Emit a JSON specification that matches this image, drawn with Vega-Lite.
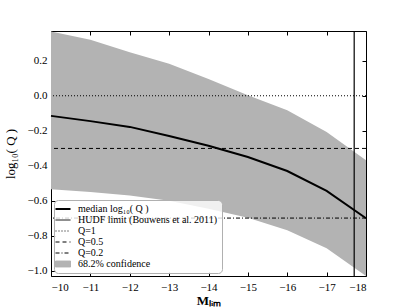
{
  "$schema": "https://vega.github.io/schema/vega-lite/v6.json",
  "width": 315,
  "height": 245,
  "autosize": "none",
  "padding": {"left": 51, "top": 31, "right": 41, "bottom": 31},
  "background": "white",
  "config": {
    "view": {"stroke": "black", "strokeWidth": 1},
    "font": "Liberation Serif",
    "axis": {"domain": false, "grid": false, "tickColor": "black", "tickSize": -4, "labelFont": "Liberation Serif", "labelFontSize": 11, "labelColor": "black", "titleFont": "Liberation Serif", "titleColor": "black"}
  },
  "datasets": {
    "band": [
      {"M": -10, "lo": -0.534, "hi": 0.367},
      {"M": -11, "lo": -0.55, "hi": 0.32},
      {"M": -12, "lo": -0.57, "hi": 0.249},
      {"M": -13, "lo": -0.6, "hi": 0.183},
      {"M": -14, "lo": -0.645, "hi": 0.096},
      {"M": -15, "lo": -0.697, "hi": 0.003},
      {"M": -16, "lo": -0.768, "hi": -0.083},
      {"M": -17, "lo": -0.872, "hi": -0.207},
      {"M": -18, "lo": -1.03, "hi": -0.368}
    ],
    "median": [
      {"M": -10, "q": -0.115},
      {"M": -11, "q": -0.145},
      {"M": -12, "q": -0.178},
      {"M": -13, "q": -0.23},
      {"M": -14, "q": -0.286},
      {"M": -15, "q": -0.35},
      {"M": -16, "q": -0.43},
      {"M": -17, "q": -0.544},
      {"M": -18, "q": -0.7}
    ],
    "hlines": [
      {"q": 0, "series": "Q=1"},
      {"q": -0.30103, "series": "Q=0.5"},
      {"q": -0.69897, "series": "Q=0.2"}
    ],
    "vlines": [
      {"M": -17.7}
    ]
  },
  "layer": [
    {
      "data": {"name": "band"},
      "mark": {"type": "area", "color": "#b3b3b3", "opacity": 1},
      "encoding": {
        "x": {"field": "M", "type": "quantitative", "scale": {"domain": [-10, -18], "nice": false, "zero": false},
              "axis": {"orient": "bottom", "title": "Mₗᵢₘ", "titleFontWeight": "bold", "titleFontSize": 13, "titlePadding": 2, "values": [-10,-11,-12,-13,-14,-15,-16,-17,-18], "format": "d", "labelPadding": 9}},
        "y": {"field": "lo", "type": "quantitative", "scale": {"domain": [-1.03, 0.37], "nice": false, "zero": false},
              "axis": {"orient": "left", "title": "log₁₀( Q )", "titleFontSize": 13, "titleFontWeight": "normal", "titlePadding": 10, "values": [0.2, 0, -0.2, -0.4, -0.6, -0.8, -1.0], "format": ".1f", "labelPadding": 8}},
        "y2": {"field": "hi"}
      }
    },
    {
      "data": {"name": "hlines"},
      "mark": {"type": "rule", "strokeWidth": 1},
      "encoding": {
        "y": {"field": "q", "type": "quantitative", "axis": {"orient": "right", "title": null, "labels": false, "values": [0.2, 0, -0.2, -0.4, -0.6, -0.8, -1.0]}},
        "color": {"field": "series", "type": "nominal",
          "scale": {"domain": ["median log₁₀( Q )", "HUDF limit (Bouwens et al. 2011)", "Q=1", "Q=0.5", "Q=0.2", "68.2% confidence"], "range": ["black", "black", "black", "black", "black", "#b3b3b3"]},
          "legend": {
            "title": null, "orient": "bottom-left", "offset": 3,
            "symbolType": "stroke", "symbolSize": 225, "rowPadding": 1, "labelOffset": 10,
            "labelFont": "Liberation Serif", "labelFontSize": 10, "labelColor": "black", "labelLimit": 300,
            "fillColor": "rgba(255,255,255,0.8)", "strokeColor": "#b0b0b0", "cornerRadius": 4, "padding": 4,
            "encode": {"symbols": {"update": {
              "shape": {"signal": "datum.value === '68.2% confidence' ? 'M-1,-0.4H1V0.4H-1Z' : 'stroke'"},
              "stroke": {"signal": "datum.value === '68.2% confidence' ? 'transparent' : 'black'"},
              "strokeDash": {"signal": "datum.value === 'Q=1' ? [1,2] : datum.value === 'Q=0.5' ? [4,3] : datum.value === 'Q=0.2' ? [4,2,1,2] : [1,0]"},
              "strokeWidth": {"signal": "datum.value === 'median log₁₀( Q )' ? 2 : 1"},
              "fill": {"signal": "datum.value === '68.2% confidence' ? '#b3b3b3' : 'transparent'"},
              "opacity": {"value": 1}
            }}}
          }},
        "strokeDash": {"field": "series", "type": "nominal",
          "scale": {"domain": ["Q=1", "Q=0.5", "Q=0.2"], "range": [[1,2], [4,3], [4,2,1,2]]}, "legend": null}
      }
    },
    {
      "data": {"name": "vlines"},
      "mark": {"type": "rule", "strokeWidth": 1.2, "color": "black"},
      "encoding": {
        "x": {"field": "M", "type": "quantitative", "axis": {"orient": "top", "title": null, "labels": false, "values": [-10,-11,-12,-13,-14,-15,-16,-17,-18]}}
      }
    },
    {
      "data": {"name": "median"},
      "mark": {"type": "line", "color": "black", "strokeWidth": 2},
      "encoding": {
        "x": {"field": "M", "type": "quantitative", "axis": null},
        "y": {"field": "q", "type": "quantitative", "axis": null}
      }
    }
  ]
}
